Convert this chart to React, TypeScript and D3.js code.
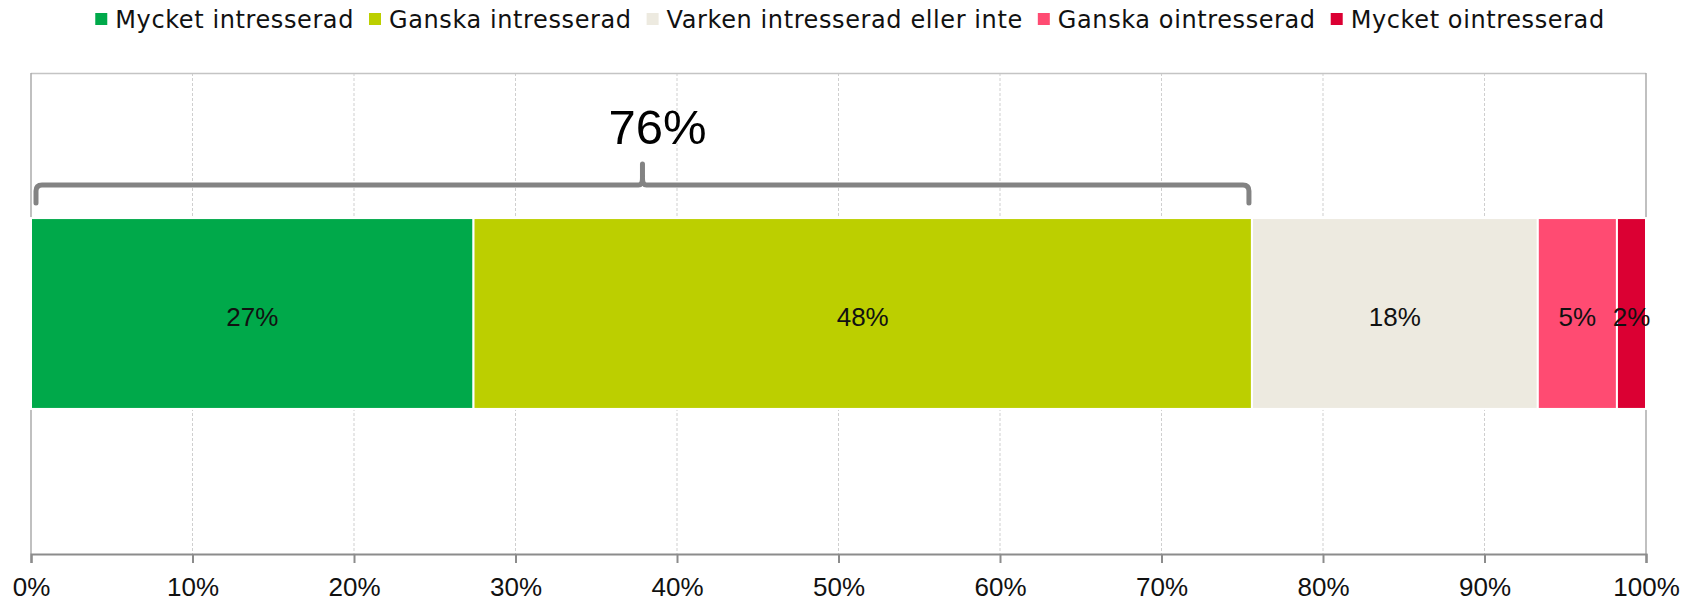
import React, { useEffect, useRef } from 'react';
import * as d3 from 'd3';

const categories = [
  'Mycket intresserad',
  'Ganska intresserad',
  'Varken intresserad eller inte',
  'Ganska ointresserad',
  'Mycket ointresserad',
];
const values = [0.274, 0.482, 0.177, 0.049, 0.018];
const valueLabels = ['27%', '48%', '18%', '5%', '2%'];
const colors = ['#00a94a', '#bccf00', '#edeae0', '#ff4b72', '#db0033'];
const tickValues = [0, 0.1, 0.2, 0.3, 0.4, 0.5, 0.6, 0.7, 0.8, 0.9, 1];
const bracketLabel = '76%';
const bracketSpan = 2; // first two segments

const W = 1696;
const H = 602;

const App = () => {
  const svgRef = useRef<SVGSVGElement>(null);

  useEffect(() => {
    const svg = d3.select(svgRef.current);
    svg.selectAll('*').remove();

    const margin = { top: 73, right: 50, bottom: 48, left: 31 };
    const x = d3.scaleLinear().domain([0, 1]).range([margin.left, W - margin.right]);
    const y = d3.scaleBand().domain(['all']).range([margin.top, H - margin.bottom]).paddingInner(0).paddingOuter(0.76);
    const bottom = H - margin.bottom;

    // grid
    svg.append('g')
      .selectAll('line')
      .data(tickValues.slice(1, -1))
      .join('line')
      .attr('x1', (d) => x(d)).attr('x2', (d) => x(d))
      .attr('y1', margin.top).attr('y2', bottom)
      .attr('stroke', '#cfcfcf')
      .attr('stroke-dasharray', '3,2');

    // frame
    svg.append('line')
      .attr('x1', x(0)).attr('x2', x(1)).attr('y1', margin.top + 0.5).attr('y2', margin.top + 0.5)
      .attr('stroke', '#c4c4c4').attr('stroke-width', 1.5);
    [0, 1].forEach((v) => {
      svg.append('line')
        .attr('x1', x(v)).attr('x2', x(v)).attr('y1', margin.top).attr('y2', bottom)
        .attr('stroke', '#ababab').attr('stroke-width', 1.5);
    });

    // axis
    const axis = svg.append('g')
      .attr('transform', `translate(0,${bottom})`)
      .call(d3.axisBottom(x).tickValues(tickValues).tickFormat(d3.format('.0%')).tickSize(9).tickPadding(15));
    axis.select('.domain').attr('stroke', '#8c8c8c').attr('stroke-width', 2.2);
    axis.selectAll('.tick line').attr('stroke', '#8c8c8c').attr('stroke-width', 2);
    axis.selectAll('.tick text')
      .attr('fill', '#111')
      .style('font-family', '"Liberation Sans", Arial, sans-serif')
      .style('font-size', '26px');

    // stacked bar
    const starts = values.map((_, i) => d3.sum(values.slice(0, i)));
    const segs = values.map((v, i) => ({ v, i, x0: starts[i], x1: starts[i] + v }));
    const by = y('all') as number;
    const bh = y.bandwidth();

    svg.append('g')
      .selectAll('rect')
      .data(segs)
      .join('rect')
      .attr('x', (d) => x(d.x0))
      .attr('width', (d) => x(d.x1) - x(d.x0))
      .attr('y', by)
      .attr('height', bh)
      .attr('fill', (d) => colors[d.i])
      .attr('stroke', '#fff')
      .attr('stroke-width', 2);

    svg.append('g')
      .selectAll('text')
      .data(segs)
      .join('text')
      .attr('x', (d) => x((d.x0 + d.x1) / 2))
      .attr('y', by + bh / 2 + 3)
      .attr('dy', '0.35em')
      .attr('text-anchor', 'middle')
      .attr('fill', '#111')
      .style('font-family', '"Liberation Sans", Arial, sans-serif')
      .style('font-size', '26px')
      .text((d) => valueLabels[d.i]);

    // bracket over first two segments
    const bx1 = x(0) + 5;
    const bx2 = x(starts[bracketSpan]) - 3;
    const mid = (bx1 + bx2) / 2;
    const yh = by - 33;
    const yEnd = by - 15;
    const tip = yh - 21;
    const p = d3.path();
    p.moveTo(bx1, yEnd);
    p.lineTo(bx1, yh + 6);
    p.quadraticCurveTo(bx1, yh, bx1 + 6, yh);
    p.lineTo(mid - 4, yh);
    p.quadraticCurveTo(mid, yh, mid, yh - 7);
    p.lineTo(mid, tip);
    p.moveTo(mid, yh - 7);
    p.quadraticCurveTo(mid, yh, mid + 4, yh);
    p.lineTo(bx2 - 6, yh);
    p.quadraticCurveTo(bx2, yh, bx2, yh + 6);
    p.lineTo(bx2, yEnd);
    svg.append('path')
      .attr('d', p.toString())
      .attr('fill', 'none')
      .attr('stroke', '#838383')
      .attr('stroke-width', 5)
      .attr('stroke-linejoin', 'round')
      .attr('stroke-linecap', 'round');

    svg.append('text')
      .attr('x', mid + 15)
      .attr('y', tip - 20)
      .attr('text-anchor', 'middle')
      .attr('fill', '#000')
      .style('font-family', '"Liberation Sans", Arial, sans-serif')
      .style('font-size', '49px')
      .text(bracketLabel);

    // legend, centred
    const legend = svg.append('g');
    const items = legend.selectAll('g')
      .data(categories)
      .join('g');
    items.append('rect')
      .attr('width', 12).attr('height', 12)
      .attr('y', 13)
      .attr('fill', (_, i) => colors[i]);
    items.append('text')
      .attr('x', 20)
      .attr('y', 28)
      .attr('fill', '#111')
      .style('font-family', '"DejaVu Sans", sans-serif')
      .style('font-size', '24px')
      .style('letter-spacing', '0.6px')
      .text((d) => d);

    const gap = 15;
    let cx = 0;
    items.each(function () {
      const g = d3.select(this);
      const tw = (g.select('text').node() as SVGTextElement).getComputedTextLength();
      g.attr('transform', `translate(${cx},0)`);
      cx += 20 + tw + gap;
    });
    const total = cx - gap;
    legend.attr('transform', `translate(${(W - total) / 2 + 2},0)`);
  }, []);

  return (
    <div style={{ position: 'absolute', left: 0, top: 0, width: W, height: H, background: '#fff' }}>
      <svg ref={svgRef} width={W} height={H} style={{ display: 'block' }} />
    </div>
  );
};

export default App;
